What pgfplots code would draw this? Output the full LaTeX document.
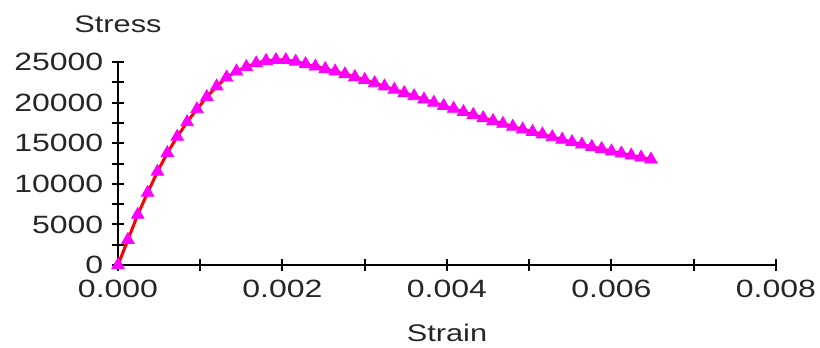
\documentclass[border=0pt]{standalone}
\usepackage{pgfplots}
\pgfplotsset{compat=1.18}
\usepackage{pgfplotstable}
\usepackage{fontspec}
\setmainfont{Liberation Sans}[FakeStretch=1.28]
\definecolor{mag}{RGB}{255,0,255}
\pgfplotstableread{
x y
0 0
0.00012 3100
0.00024 6200
0.00036 8900
0.00048 11500
0.00060 13800
0.00072 15800
0.00084 17600
0.00096 19200
0.00108 20700
0.00120 22000
0.00132 23100
0.00144 23850
0.00156 24400
0.00168 24850
0.00180 25150
0.00192 25250
0.00204 25250
0.00216 25050
0.00228 24750
0.00240 24450
0.00252 24150
0.00264 23850
0.00276 23500
0.00288 23150
0.00300 22800
0.00312 22400
0.00324 22000
0.00336 21600
0.00348 21200
0.00360 20800
0.00372 20400
0.00384 20000
0.00396 19600
0.00408 19250
0.00420 18850
0.00432 18500
0.00444 18100
0.00456 17750
0.00468 17400
0.00480 17050
0.00492 16700
0.00504 16400
0.00516 16100
0.00528 15750
0.00540 15450
0.00552 15150
0.00564 14850
0.00576 14550
0.00588 14300
0.00600 14000
0.00612 13750
0.00624 13500
0.00636 13250
0.00648 13000
}\datatable
\begin{document}
\fontsize{12.5pt}{15pt}\selectfont
\begin{tikzpicture}
\path[use as bounding box] (-59pt,-41.5pt) rectangle (351pt,132.5pt);
\begin{axis}[
  at={(0,0)}, anchor=south west,
  scale only axis, width=329pt, height=101.5pt,
  xmin=0, xmax=0.008, ymin=0, ymax=25000,
  axis x line=bottom, axis y line=left,
  axis line style={-, line width=1pt, black},
  xtick={0,0.002,0.004,0.006,0.008},
  minor xtick={0.001,0.003,0.005,0.007},
  ytick={0,5000,10000,15000,20000,25000},
  minor ytick={2500,7500,12500,17500,22500},
  tick align=center,
  major tick length=6pt, minor tick length=6pt,
  every tick/.style={black, line width=1pt},
  every minor tick/.style={black, line width=1pt},
  scaled x ticks=false, scaled y ticks=false,
  /pgf/number format/assume math mode=true,
  xticklabel style={/pgf/number format/fixed, /pgf/number format/fixed zerofill, /pgf/number format/precision=3, yshift=0pt},
  yticklabel style={/pgf/number format/fixed, /pgf/number format/1000 sep={}, xshift=0pt},
  tick label style={font=\fontsize{12.5pt}{15pt}\selectfont, text=black!85},
  xlabel={Strain}, ylabel={Stress},
  every axis x label/.style={at={(rel axis cs:0.5,0)}, anchor=center, yshift=-34pt, font=\fontsize{12pt}{14pt}\selectfont, text=black!85},
  every axis y label/.style={at={(rel axis cs:0,1)}, anchor=center, yshift=19pt, font=\fontsize{12pt}{14pt}\selectfont, text=black!85},
  clip=false,
]
\addplot[red, line width=1.5pt, mark=none] table[x=x, y=y] {\datatable};
\addplot[only marks, mark=triangle*, mark size=3.6pt, mark options={fill=mag, draw=mag}] table[x=x, y=y] {\datatable};
\end{axis}
\end{tikzpicture}
\end{document}
